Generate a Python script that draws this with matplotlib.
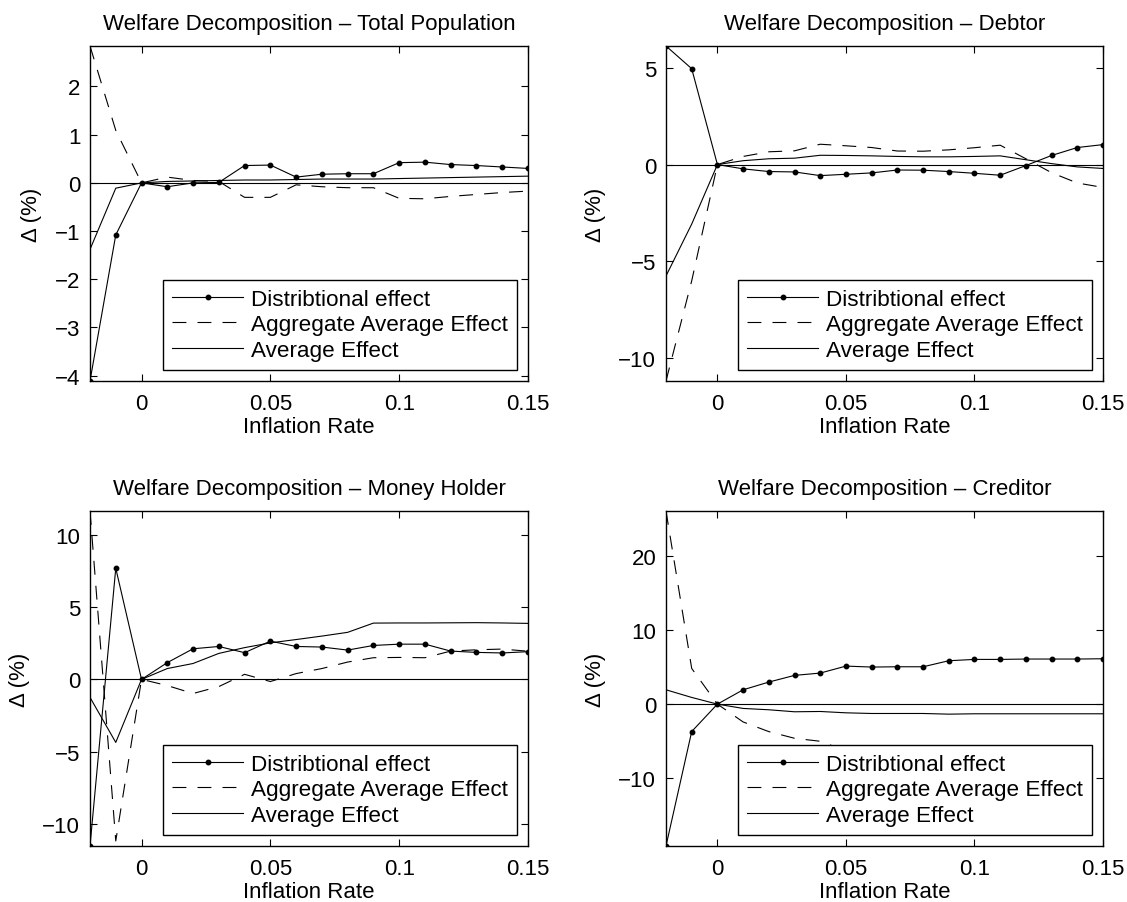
import matplotlib
matplotlib.use("Agg")
import matplotlib.pyplot as plt

plt.rcParams['font.family'] = ['Liberation Sans', 'DejaVu Sans']
plt.rcParams['font.size'] = 16
plt.rcParams['lines.scale_dashes'] = False
plt.rcParams['axes.linewidth'] = 1.0

# inflation rates on the x axis
x = [-0.02, -0.01, 0.00, 0.01, 0.02, 0.03, 0.04, 0.05, 0.06,
     0.07, 0.08, 0.09, 0.10, 0.11, 0.12, 0.13, 0.14, 0.15]

# Total population
dist_tot = [-4.11, -1.08, 0.00, -0.08, 0.00, 0.01, 0.36, 0.37, 0.12,
            0.18, 0.19, 0.19, 0.42, 0.43, 0.38, 0.36, 0.33, 0.30]
agg_tot = [2.84, 1.09, 0.00, 0.12, 0.05, 0.03, -0.30, -0.30, -0.04,
           -0.08, -0.10, -0.10, -0.32, -0.33, -0.28, -0.24, -0.20, -0.17]
avg_tot = [-1.38, -0.11, 0.00, 0.03, 0.04, 0.05, 0.06, 0.06, 0.07,
           0.08, 0.08, 0.08, 0.09, 0.10, 0.11, 0.12, 0.13, 0.14]

# Debtor
dist_debt = [6.12, 4.95, 0.00, -0.22, -0.36, -0.38, -0.57, -0.50, -0.43,
             -0.28, -0.29, -0.36, -0.45, -0.55, -0.05, 0.47, 0.88, 1.03]
agg_debt = [-11.17, -6.00, 0.00, 0.42, 0.66, 0.71, 1.05, 0.97, 0.88,
            0.70, 0.69, 0.76, 0.87, 1.00, 0.30, -0.42, -0.95, -1.18]
avg_debt = [-5.75, -3.07, 0.00, 0.20, 0.30, 0.33, 0.48, 0.47, 0.45,
            0.42, 0.40, 0.40, 0.42, 0.45, 0.25, 0.05, -0.12, -0.20]

# Money holder
dist_mon = [-11.55, 7.70, 0.00, 1.16, 2.12, 2.28, 1.85, 2.65, 2.28,
            2.24, 2.03, 2.35, 2.44, 2.44, 1.96, 1.87, 1.83, 1.92]
agg_mon = [11.67, -11.20, 0.00, -0.43, -0.98, -0.50, 0.35, -0.15, 0.40,
           0.75, 1.20, 1.50, 1.52, 1.50, 1.96, 2.05, 2.10, 1.95]
avg_mon = [-1.25, -4.37, 0.00, 0.75, 1.10, 1.80, 2.20, 2.53, 2.76,
           3.00, 3.26, 3.90, 3.91, 3.91, 3.92, 3.93, 3.91, 3.88]

# Creditor
dist_cred = [-19.10, -3.69, 0.00, 1.93, 2.97, 3.87, 4.18, 5.12, 4.99,
             5.03, 5.03, 5.84, 6.02, 6.02, 6.07, 6.07, 6.07, 6.11]
agg_cred = [26.00, 4.80, 0.00, -2.40, -3.70, -4.60, -5.00, -6.30, -6.25,
            -6.30, -6.30, -7.20, -7.30, -7.30, -7.40, -7.40, -7.40, -7.40]
avg_cred = [1.93, 0.90, 0.00, -0.58, -0.76, -1.03, -0.99, -1.17, -1.26,
            -1.26, -1.26, -1.35, -1.30, -1.30, -1.30, -1.30, -1.30, -1.30]

panels = [
    ("Total Population", dist_tot, agg_tot, avg_tot, [-4, -3, -2, -1, 0, 1, 2]),
    ("Debtor", dist_debt, agg_debt, avg_debt, [-10, -5, 0, 5]),
    ("Money Holder", dist_mon, agg_mon, avg_mon, [-10, -5, 0, 5, 10]),
    ("Creditor", dist_cred, agg_cred, avg_cred, [-10, 0, 10, 20]),
]

xticks = [0, 0.05, 0.1, 0.15]
xticklabels = ['0', '0.05', '0.1', '0.15']

fig = plt.figure(figsize=(11.27, 9.03), dpi=100)
W, H = 1127, 903
# axes boxes in pixels: left, top, right, bottom
boxes = [(90, 47, 528, 382), (666, 47, 1103, 382),
         (90, 512, 528, 847), (666, 512, 1103, 847)]

for (name, dist, agg, avg, yticks), (l, t, r, b) in zip(panels, boxes):
    ax = fig.add_axes([l / W, 1 - b / H, (r - l) / W, (b - t) / H])
    ax.plot(x, dist, color='k', lw=0.8, marker='o', markersize=3.2,
            label='Distribtional effect')
    ax.plot(x, agg, color='k', lw=0.8, dashes=(10, 8),
            label='Aggregate Average Effect')
    ax.plot(x, avg, color='k', lw=0.8, label='Average Effect')
    ax.axhline(0, color='k', lw=0.8)

    allv = dist + agg + avg
    ax.set_xlim(-0.02, 0.15)
    ax.set_ylim(min(allv), max(allv))
    ax.set_xticks(xticks)
    ax.set_xticklabels(xticklabels)
    ax.set_yticks(yticks)
    ax.tick_params(direction='in', length=5, width=0.8, top=True, right=True,
                   labelsize=16)
    ax.tick_params(axis='x', pad=9)
    ax.tick_params(axis='y', pad=7)
    ax.set_xlabel('Inflation Rate', labelpad=1)
    ax.set_ylabel('Δ (%)', labelpad=9)
    ax.set_title('Welfare Decomposition – ' + name, fontsize=16, pad=12)

    leg = ax.legend(loc='lower right', fontsize=16.2, handlelength=3.15,
                    handletextpad=0.35, labelspacing=0.2, borderpad=0.4,
                    borderaxespad=0.5, fancybox=False, framealpha=1,
                    edgecolor='k')
    leg.get_frame().set_linewidth(1.0)

fig.savefig('out.png', dpi=100)
